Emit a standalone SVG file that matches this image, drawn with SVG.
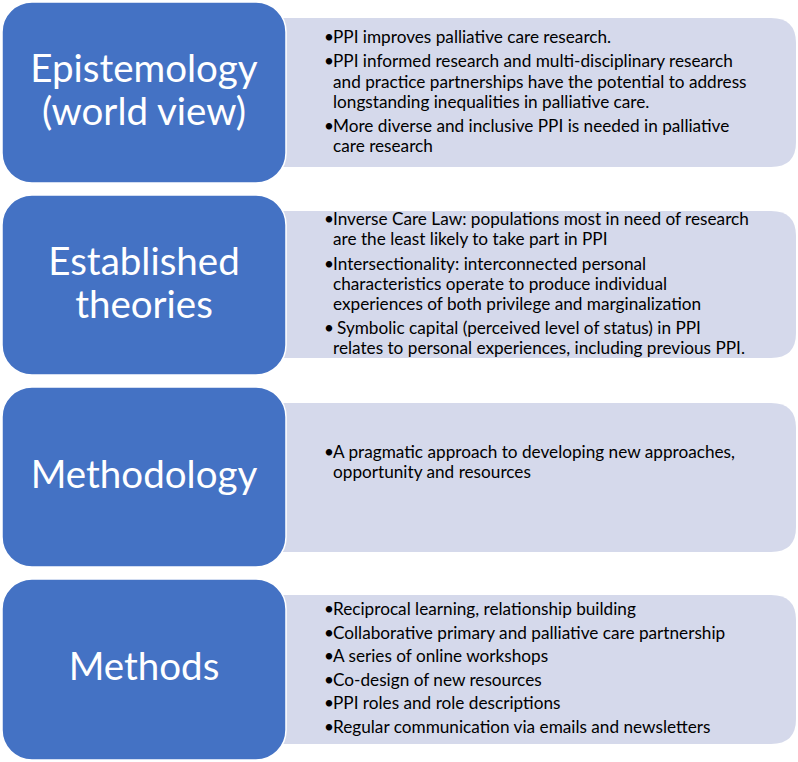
<svg xmlns="http://www.w3.org/2000/svg" width="798" height="762" viewBox="0 0 798 762">
<style>
.head{fill:#4472C4;stroke:#ffffff;stroke-width:1.5}
.body{fill:#D5D9EB}
.ht{font-family:Lato,"Open Sans",sans-serif;font-size:38.5px;fill:#ffffff;text-anchor:middle}
.bt{font-family:Lato,"Open Sans",sans-serif;font-size:17.2px;fill:#000000}
.bu{font-family:Lato,"Open Sans",sans-serif;font-size:17.2px;fill:#000000}
</style>
<rect width="798" height="762" fill="#ffffff"/>
<g id="connectors"></g>
<g id="row1">
<path class="body" d="M270 18 H771 Q796 18 796 43 V142 Q796 167 771 167 H270 Z"/>
<rect class="head" x="2" y="2" width="284" height="181" rx="30"/>
<text class="ht" x="144" y="82">Epistemology</text>
<text class="ht" x="144" y="125">(world view)</text>
<text class="bu" x="324" y="43">•</text><text class="bt" x="333" y="43">PPI improves palliative care research.</text>
<text class="bu" x="324" y="67">•</text><text class="bt" x="333" y="67">PPI informed research and multi-disciplinary research</text>
<text class="bt" x="333" y="87.5">and practice partnerships have the potential to address</text>
<text class="bt" x="333" y="108">longstanding inequalities in palliative care.</text>
<text class="bu" x="324" y="132">•</text><text class="bt" x="333" y="132">More diverse and inclusive PPI is needed in palliative</text>
<text class="bt" x="333" y="152">care research</text>
</g>
<g id="row2">
<path class="body" d="M270 211 H771 Q796 211 796 236 V333 Q796 358 771 358 H270 Z"/>
<rect class="head" x="2" y="195" width="284" height="180" rx="30"/>
<text class="ht" x="144" y="275">Established</text>
<text class="ht" x="144" y="318">theories</text>
<text class="bu" x="324" y="225">•</text><text class="bt" x="333" y="225">Inverse Care Law: populations most in need of research</text>
<text class="bt" x="333" y="245">are the least likely to take part in PPI</text>
<text class="bu" x="324" y="270">•</text><text class="bt" x="333" y="270">Intersectionality: interconnected personal</text>
<text class="bt" x="333" y="290">characteristics operate to produce individual</text>
<text class="bt" x="333" y="309.5">experiences of both privilege and marginalization</text>
<text class="bu" x="324" y="334">•</text><text class="bt" x="337" y="334">Symbolic capital (perceived level of status) in PPI</text>
<text class="bt" x="333" y="354">relates to personal experiences, including previous PPI.</text>
</g>
<g id="row3">
<path class="body" d="M270 403 H771 Q796 403 796 428 V527 Q796 552 771 552 H270 Z"/>
<rect class="head" x="2" y="387" width="284" height="180" rx="30"/>
<text class="ht" x="144" y="488">Methodology</text>
<text class="bu" x="324" y="458">•</text><text class="bt" x="333" y="458">A pragmatic approach to developing new approaches,</text>
<text class="bt" x="333" y="478">opportunity and resources</text>
</g>
<g id="row4">
<path class="body" d="M270 595 H771 Q796 595 796 620 V719 Q796 744 771 744 H270 Z"/>
<rect class="head" x="2" y="579" width="284" height="181" rx="30"/>
<text class="ht" x="144" y="680">Methods</text>
<text class="bu" x="324" y="615">•</text><text class="bt" x="333" y="615">Reciprocal learning, relationship building</text>
<text class="bu" x="324" y="638.5">•</text><text class="bt" x="333" y="638.5">Collaborative primary and palliative care partnership</text>
<text class="bu" x="324" y="662">•</text><text class="bt" x="333" y="662">A series of online workshops</text>
<text class="bu" x="324" y="685.5">•</text><text class="bt" x="333" y="685.5">Co-design of new resources</text>
<text class="bu" x="324" y="709">•</text><text class="bt" x="333" y="709">PPI roles and role descriptions</text>
<text class="bu" x="324" y="732.5">•</text><text class="bt" x="333" y="732.5">Regular communication via emails and newsletters</text>
</g>
</svg>
